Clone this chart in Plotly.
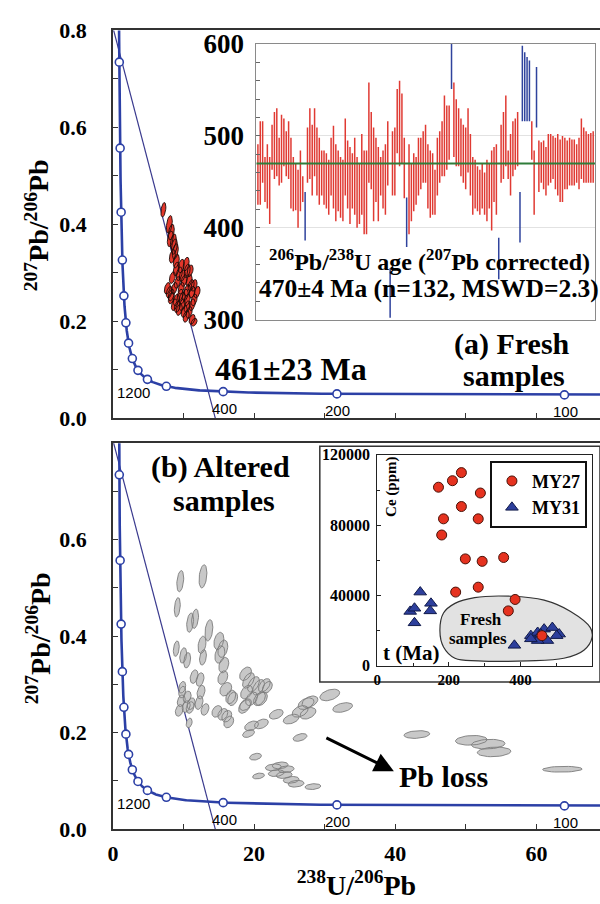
import numpy as np
import plotly.graph_objects as go

SERIF = "Liberation Serif"
SANS = "Liberation Sans"

# ---------------- U-Pb constants ----------------
L238 = 1.55125e-10
L235 = 9.8485e-10
U_RATIO = 137.88

# Concordia age marks (Ma) and labelled ones
concordia_marks = [100, 200, 400, 800, 1200, 1600, 2000, 2400, 2800, 3200, 3600, 4000, 4400, 4800]
concordia_labelled = [100, 200, 400, 1200]

# Discordia: common-Pb 207/206 intercept and lower-intercept age (Ma)
common_pb = 0.806
lower_age = 461

# ---------------- (a) fresh titanite analyses ----------------
fresh_x = [7.15, 7.99, 8.27, 8.56, 8.84, 8.98, 9.68, 10.38, 10.52, 9.40, 8.42, 9.12, 10.10, 10.80,
           11.50, 11.92, 7.99, 8.70, 9.68, 10.52, 11.22, 8.27, 8.98, 9.82, 10.52, 11.50, 9.12, 9.82,
           10.52, 11.22, 10.10, 10.80, 11.22, 11.50, 8.42, 8.98, 7.71, 8.27, 11.08, 9.54, 10.24, 8.70,
           9.40, 10.38, 9.82, 10.94, 8.13, 8.70]
fresh_y = [0.430, 0.400, 0.384, 0.364, 0.344, 0.324, 0.314, 0.318, 0.304, 0.298, 0.290, 0.280, 0.284,
           0.284, 0.274, 0.260, 0.260, 0.268, 0.268, 0.264, 0.260, 0.248, 0.244, 0.248, 0.244, 0.244,
           0.230, 0.234, 0.230, 0.234, 0.220, 0.218, 0.204, 0.198, 0.334, 0.308, 0.268, 0.254, 0.274,
           0.254, 0.254, 0.234, 0.224, 0.210, 0.294, 0.304, 0.370, 0.354]
fresh_sx = [0.35] + [0.42] * 47
fresh_sy = [0.015, 0.018, 0.016, 0.016, 0.016, 0.014, 0.014, 0.014, 0.014, 0.014, 0.012, 0.012, 0.012,
            0.012, 0.012, 0.012, 0.012, 0.012, 0.012, 0.012, 0.012, 0.012, 0.012, 0.012, 0.012, 0.012,
            0.012, 0.012, 0.012, 0.012, 0.012, 0.012, 0.010, 0.008, 0.014, 0.014, 0.012, 0.012, 0.012,
            0.012, 0.012, 0.012, 0.012, 0.012, 0.012, 0.012, 0.016, 0.016]
fresh_rho = [0.4] * len(fresh_x)

# ---------------- (b) altered titanite analyses ----------------
alt_x = [9.54, 12.76, 9.12, 10.94, 11.64, 13.60, 8.98, 9.96, 10.52, 12.62, 12.76, 15.01, 15.57, 15.15,
         15.71, 15.57, 11.50, 12.34, 9.82, 12.48, 12.20, 9.68, 10.38, 9.40, 10.94, 13.04, 10.80, 15.99,
         16.69, 14.73, 15.57, 16.41, 16.13, 19.21, 19.92, 20.62, 21.46, 18.93, 19.64, 18.79, 21.04,
         21.88, 18.79, 23.14, 21.04, 19.64, 19.21, 25.25, 26.51, 27.35, 27.63, 30.72, 32.54, 26.51,
         20.20, 20.62, 22.72, 23.70, 24.54, 23.14, 24.26, 25.25, 25.95, 28.33, 43.06, 50.77, 53.16,
         54.00, 63.67, 10.52, 11.08, 9.82, 18.65, 20.76, 16.97, 27.91]
alt_y = [0.514, 0.524, 0.460, 0.428, 0.436, 0.412, 0.374, 0.360, 0.350, 0.382, 0.356, 0.390, 0.374,
         0.362, 0.340, 0.314, 0.316, 0.310, 0.294, 0.284, 0.262, 0.266, 0.254, 0.246, 0.252, 0.248,
         0.220, 0.290, 0.274, 0.244, 0.238, 0.222, 0.234, 0.308, 0.300, 0.294, 0.298, 0.284, 0.270,
         0.258, 0.270, 0.294, 0.322, 0.238, 0.218, 0.214, 0.198, 0.228, 0.244, 0.260, 0.240, 0.278,
         0.252, 0.190, 0.150, 0.110, 0.128, 0.132, 0.124, 0.116, 0.112, 0.102, 0.094, 0.088, 0.196,
         0.184, 0.176, 0.160, 0.124, 0.274, 0.260, 0.284, 0.254, 0.270, 0.270, 0.264]
alt_sx = [0.49, 0.56, 0.42, 0.49, 0.49, 0.56, 0.42, 0.49, 0.49, 0.56, 0.49, 0.70, 0.70, 0.70,
          0.70, 0.70, 0.56, 0.56, 0.49, 0.56, 0.56, 0.56, 0.56, 0.56, 0.56, 0.56, 0.42, 0.84,
          0.70, 0.70, 0.70, 0.70, 0.70, 0.84, 0.84, 0.84, 0.84, 0.84, 0.84, 0.84, 0.84, 0.70,
          0.84, 0.98, 0.98, 0.98, 0.84, 1.12, 1.12, 1.12, 1.12, 1.40, 1.40, 0.98, 0.84, 0.84,
          1.12, 1.12, 1.12, 1.12, 1.12, 1.12, 1.12, 1.12, 1.82, 2.24, 2.38, 2.38, 2.80,
          0.56, 0.56, 0.49, 0.84, 0.84, 0.70, 1.12]
alt_sy = [0.022, 0.024, 0.020, 0.020, 0.020, 0.022, 0.016, 0.016, 0.016, 0.018, 0.016, 0.018, 0.018,
          0.018, 0.016, 0.014, 0.014, 0.014, 0.012, 0.014, 0.014, 0.012, 0.012, 0.012, 0.012, 0.012,
          0.010, 0.014, 0.014, 0.012, 0.012, 0.012, 0.012, 0.016, 0.016, 0.016, 0.014, 0.014, 0.014,
          0.012, 0.014, 0.012, 0.014, 0.010, 0.010, 0.010, 0.008, 0.010, 0.012, 0.012, 0.012, 0.012,
          0.010, 0.008, 0.007, 0.006, 0.007, 0.007, 0.007, 0.007, 0.007, 0.007, 0.007, 0.006, 0.008,
          0.010, 0.010, 0.010, 0.006, 0.012, 0.012, 0.012, 0.014, 0.014, 0.014, 0.012]
alt_rho = ([0.3] * 33 + [0.5] * 4 + [0.4] * 17 + [0.3, 0.3] + [0.2] * 8 +
           [0.2, 0.15, 0.15, 0.15, 0.1] + [0.3, 0.3, 0.3, 0.45, 0.45, 0.3, 0.4])

# ---------------- 206Pb/238U spot ages (207Pb corrected) ----------------
spot_hi = [491, 516, 516, 477, 491, 477, 512, 526, 530, 498, 523, 519, 505, 516, 498, 477, 470, 463,
           484, 456, 439, 509, 530, 512, 530, 509, 498, 484, 484, 481, 474, 498, 511, 491, 484, 477,
           474, 519, 495, 488, 481, 498, 477, 470, 502, 484, 484, 558, 526, 509, 498, 488, 477, 484,
           491, 516, 356, 505, 509, 551, 560, 546, 498, 433, 491, 470, 481, 477, 498, 498, 505, 512,
           491, 484, 481, 463, 498, 505, 516, 544, 533, 533, 605, 558, 540, 530, 519, 512, 509, 530,
           502, 477, 474, 467, 463, 470, 460, 474, 470, 484, 488, 491, 389, 512, 526, 544, 484, 502,
           516, 519, 526, 439, 598, 591, 586, 582, 516, 484, 575, 495, 493, 495, 488, 502, 502, 500,
           498, 502, 496, 500, 498, 495, 498, 496, 496, 491, 498, 519, 509, 505, 502, 503, 505]
spot_lo = [425, 425, 449, 428, 421, 404, 463, 453, 456, 446, 449, 467, 456, 453, 421, 418, 419, 400,
           418, 428, 386, 449, 453, 435, 456, 435, 425, 435, 425, 421, 414, 435, 421, 407, 418, 411,
           407, 435, 421, 404, 421, 414, 400, 404, 414, 393, 393, 449, 442, 407, 428, 407, 435, 421,
           414, 446, 302, 435, 435, 481, 467, 470, 432, 379, 393, 407, 418, 425, 435, 442, 449, 449,
           421, 411, 414, 414, 435, 449, 456, 456, 463, 474, 551, 477, 467, 467, 456, 449, 442, 460,
           435, 414, 421, 418, 414, 421, 414, 407, 421, 397, 428, 414, 344, 449, 453, 467, 453, 435,
           456, 463, 467, 384, 516, 516, 516, 516, 474, 414, 509, 439, 449, 442, 435, 446, 449, 453,
           442, 435, 428, 428, 442, 442, 446, 446, 446, 449, 442, 453, 449, 449, 449, 449, 449]
rejected_spots = [21, 57, 64, 83, 103, 112, 113, 114, 115, 116, 119]
weighted_mean_age = 470

# ---------------- Ce content vs apparent age ----------------
my27_t = [171, 210, 235, 288, 235, 185, 282, 180, 246, 293, 353, 219, 282, 385, 366, 460]
my27_ce = [101600, 105300, 109900, 98300, 90600, 83600, 83600, 74400, 60800, 59400, 61600, 41900,
           44700, 37700, 31200, 17100]
my31_t = [120, 92, 104, 104, 150, 148, 383, 429, 448, 466, 489, 508, 501, 475, 448, 429, 457]
my31_ce = [41900, 30900, 32700, 24400, 35500, 31200, 11600, 17100, 18900, 20800, 21700, 18000, 17100,
           14300, 14300, 15300, 18000]
fresh_field_t = [175, 185, 217, 272, 374, 466, 540, 595, 600, 577, 521, 420, 282, 217, 185, 175]
fresh_field_ce = [19850, 29960, 35470, 38780, 39520, 37310, 30880, 21690, 16170, 8820, 4230, 2760,
                  2760, 4230, 10660, 19850]


# ---------------- helpers ----------------
def concordia(t_ma):
    t = np.asarray(t_ma, dtype=float) * 1e6
    e8 = np.exp(L238 * t) - 1.0
    e5 = np.exp(L235 * t) - 1.0
    return 1.0 / e8, e5 / e8 / U_RATIO


def ellipses(xs, ys, sxs, sys_, rhos, n=36):
    th = np.linspace(0, 2 * np.pi, n)
    ex, ey = [], []
    for x, y, sx, sy, r in zip(xs, ys, sxs, sys_, rhos):
        ex += list(x + sx * np.cos(th)) + [None]
        ey += list(y + sy * (r * np.cos(th) + np.sqrt(1 - r * r) * np.sin(th))) + [None]
    return ex, ey


fig = go.Figure()

curve_t = np.geomspace(60, 5600, 600)
cx, cy = concordia(curve_t)
mx, my = concordia(concordia_marks)
lx, ly = concordia(lower_age)
slope = (ly - common_pb) / lx
disc_x = [0, -common_pb / slope]
disc_y = [common_pb, 0]

BLUE = "#2c40a6"

for xa, ya in (("x", "y"), ("x2", "y2")):
    fig.add_trace(go.Scatter(x=disc_x, y=disc_y, mode="lines", xaxis=xa, yaxis=ya,
                             line=dict(color="#3a3a8e", width=1.2), showlegend=False, hoverinfo="skip"))
    fig.add_trace(go.Scatter(x=cx, y=cy, mode="lines", xaxis=xa, yaxis=ya,
                             line=dict(color=BLUE, width=2.6), showlegend=False, hoverinfo="skip"))
    if xa == "x":
        ex, ey = ellipses(fresh_x, fresh_y, fresh_sx, fresh_sy, fresh_rho)
        fig.add_trace(go.Scatter(x=ex, y=ey, mode="lines", fill="toself", fillcolor="#e2372b",
                                 line=dict(color="#1a0a08", width=0.9), xaxis=xa, yaxis=ya,
                                 showlegend=False, hoverinfo="skip"))
    else:
        ex, ey = ellipses(alt_x, alt_y, alt_sx, alt_sy, alt_rho)
        fig.add_trace(go.Scatter(x=ex, y=ey, mode="lines", fill="toself", fillcolor="#c8c8c8",
                                 line=dict(color="#7c7c7c", width=0.9), xaxis=xa, yaxis=ya,
                                 showlegend=False, hoverinfo="skip"))
    fig.add_trace(go.Scatter(x=mx, y=my, mode="markers", xaxis=xa, yaxis=ya,
                             marker=dict(size=8, color="white", line=dict(color=BLUE, width=1.6)),
                             showlegend=False, hoverinfo="skip"))

# spot-age bars
red_x, red_y, blue_x, blue_y = [], [], [], []
for i, (hi, lo) in enumerate(zip(spot_hi, spot_lo), start=1):
    if i in rejected_spots:
        blue_x += [i, i, None]
        blue_y += [lo, hi, None]
    else:
        red_x += [i, i, None]
        red_y += [lo, hi, None]
fig.add_trace(go.Scatter(x=red_x, y=red_y, mode="lines", xaxis="x3", yaxis="y3",
                         line=dict(color="#e03a33", width=1.5), showlegend=False, hoverinfo="skip"))
fig.add_trace(go.Scatter(x=blue_x, y=blue_y, mode="lines", xaxis="x3", yaxis="y3",
                         line=dict(color="#2f439d", width=1.5), showlegend=False, hoverinfo="skip"))
fig.add_trace(go.Scatter(x=[0, len(spot_hi) + 1], y=[weighted_mean_age] * 2, mode="lines",
                         xaxis="x3", yaxis="y3", line=dict(color="#2f7d3a", width=2),
                         showlegend=False, hoverinfo="skip"))

# Ce vs t inset
fig.add_trace(go.Scatter(x=fresh_field_t, y=fresh_field_ce, mode="lines", fill="toself",
                         fillcolor="#e2e2e2", line=dict(color="#333", width=1.2, shape="spline"),
                         xaxis="x4", yaxis="y4", showlegend=False, hoverinfo="skip"))
fig.add_trace(go.Scatter(x=my31_t, y=my31_ce, mode="markers", name="MY31", xaxis="x4", yaxis="y4",
                         marker=dict(symbol="triangle-up", size=11, color="#2d3f9c",
                                     line=dict(color="#111a4a", width=1)),
                         legendrank=2))
fig.add_trace(go.Scatter(x=my27_t, y=my27_ce, mode="markers", name="MY27", xaxis="x4", yaxis="y4",
                         marker=dict(symbol="circle", size=10, color="#e5321f",
                                     line=dict(color="#4a1208", width=1)),
                         legendrank=1))

tick_font = dict(family=SERIF, size=22, color="black", weight="bold")
main_axis = dict(showline=True, linecolor="#333", linewidth=1.5, ticks="inside", ticklen=5,
                 tickwidth=1.2, tickcolor="#333", showgrid=False, zeroline=False, tickfont=tick_font)

fig.update_layout(
    width=600, height=904, margin=dict(l=0, r=0, t=0, b=0),
    paper_bgcolor="white", plot_bgcolor="rgba(0,0,0,0)",
    xaxis=dict(main_axis, domain=[0.18, 1.0], range=[0, 69], anchor="y", tick0=0, dtick=20,
               minor=dict(dtick=10, ticks="inside", ticklen=5, tickcolor="#333"),
               showticklabels=False, mirror=True),
    yaxis=dict(main_axis, domain=[0.5387, 0.9823], range=[0, 0.8], anchor="x",
               tickvals=[0, 0.2, 0.4, 0.6, 0.8], ticktext=["0.0", "0.2", "0.4", "0.6", "0.8"],
               minor=dict(dtick=0.1, ticks="inside", ticklen=5, tickcolor="#333"),
               ticklabelstandoff=20),
    xaxis2=dict(main_axis, domain=[0.18, 1.0], range=[0, 69], anchor="y2",
                tickvals=[0, 20, 40, 60],
                minor=dict(dtick=10, ticks="inside", ticklen=5, tickcolor="#333"),
                mirror=True, ticklabelstandoff=4,
                title=dict(text="<sup>238</sup>U/<sup>206</sup>Pb", standoff=4,
                           font=dict(family=SERIF, size=28, color="black", weight="bold"))),
    yaxis2=dict(main_axis, domain=[0.0686, 0.5100], range=[0, 0.8], anchor="x2",
                tickvals=[0, 0.2, 0.4, 0.6], ticktext=["0.0", "0.2", "0.4", "0.6"],
                minor=dict(dtick=0.1, ticks="inside", ticklen=5, tickcolor="#333"),
                ticklabelstandoff=20),
    xaxis3=dict(domain=[0.4217, 0.9917], range=[0.4, 143.8], anchor="y3", showline=True,
                mirror=True, linecolor="#8a8a8a", linewidth=1, ticks="", showticklabels=False,
                showgrid=False, zeroline=False),
    yaxis3=dict(domain=[0.6515, 0.9668], range=[300, 600], anchor="x3", showline=True, mirror=True,
                linecolor="#8a8a8a", linewidth=1, tickvals=[300, 400, 500, 600], ticks="inside",
                ticklen=4, tickcolor="#666",
                minor=dict(dtick=20, ticks="inside", ticklen=4, tickcolor="#666"),
                showgrid=True, gridcolor="#e2e2e2", gridwidth=1, zeroline=False,
                tickfont=dict(family=SERIF, size=27, color="black", weight="bold"),
                ticklabelstandoff=6),
    xaxis4=dict(domain=[0.625, 0.9867], range=[0, 600], anchor="y4", showline=True, mirror=True,
                linecolor="#222", linewidth=1.2, tickvals=[0, 200, 400, 600], ticks="inside",
                ticklen=4, tickcolor="#222",
                minor=dict(dtick=100, ticks="inside", ticklen=3, tickcolor="#222"),
                showgrid=False, zeroline=False,
                tickfont=dict(family=SERIF, size=15, color="black", weight="bold")),
    yaxis4=dict(domain=[0.2555, 0.4967], range=[0, 120000], anchor="x4", showline=True,
                mirror=True, linecolor="#222", linewidth=1.2,
                tickvals=[0, 40000, 80000, 120000], ticktext=["0", "40000", "80000", "120000"],
                ticks="inside", ticklen=4, tickcolor="#222",
                minor=dict(dtick=20000, ticks="inside", ticklen=3, tickcolor="#222"),
                showgrid=False, zeroline=False,
                tickfont=dict(family=SERIF, size=16, color="black", weight="bold"),
                ticklabelstandoff=3),
    legend=dict(x=0.978, y=0.4900, xanchor="right", yanchor="top", bgcolor="white",
                bordercolor="#111", borderwidth=2, itemwidth=30, tracegroupgap=0,
                font=dict(family=SERIF, size=18, color="black", weight="bold")),
    shapes=[dict(type="rect", xref="paper", yref="paper", x0=0.5283, x1=1.0, y0=0.2367, y1=0.5066,
                 fillcolor="white", line=dict(color="#333", width=1.5), layer="below")],
)


def label(text, x, y, size, angle=0, xref="paper", yref="paper", family=SERIF, bold=True, **kw):
    fig.add_annotation(text=text, x=x, y=y, xref=xref, yref=yref, showarrow=False,
                       textangle=angle, xanchor="center", yanchor="middle",
                       font=dict(family=family, size=size, color="black",
                                 weight="bold" if bold else "normal"), **kw)


pb_title = "<sup>207</sup>Pb/<sup>206</sup>Pb"
label(pb_title, 0.053, 0.760, 28, angle=-90)
label(pb_title, 0.055, 0.2865, 28, angle=-90)
label("461±23 Ma", 0.48, 0.5951, 32)
label("(a) Fresh", 0.8517, 0.6239, 30)
label("samples", 0.855, 0.5874, 30)
label("<sup>206</sup>Pb/<sup>238</sup>U age (<sup>207</sup>Pb corrected)", 0.7133, 0.7201, 24)
label("470±4 Ma (n=132, MSWD=2.3)", 0.7117, 0.6869, 25.5)
label("(b) Altered", 0.3617, 0.4823, 30)
label("samples", 0.3667, 0.4447, 30)
label("Pb loss", 0.7367, 0.1283, 30)
label("Ce (ppm)", 0.65, 0.4602, 15, angle=-90)
label("t (Ma)", 0.6833, 0.2699, 21)
label("Fresh", 0.80, 0.3086, 17)
label("samples", 0.795, 0.2865, 17)

# concordia age labels
for xa, ya in (("x", "y"), ("x2", "y2")):
    for age in concordia_labelled:
        ax_, ay_ = concordia(age)
        if age == 1200:
            shift = dict(xshift=-14, yshift=-13)
        else:
            shift = dict(xshift=1, yshift=-17)
        label(str(age), float(ax_), float(ay_), 15, xref=xa, yref=ya, family=SANS, bold=False,
              **shift)

# Pb-loss arrow
fig.add_annotation(x=39.8, y=0.12, xref="x2", yref="y2", ax=-69, ay=-34, text="",
                   showarrow=True, arrowhead=2, arrowsize=1.3, arrowwidth=3, arrowcolor="black")

fig.write_html("out.html")
